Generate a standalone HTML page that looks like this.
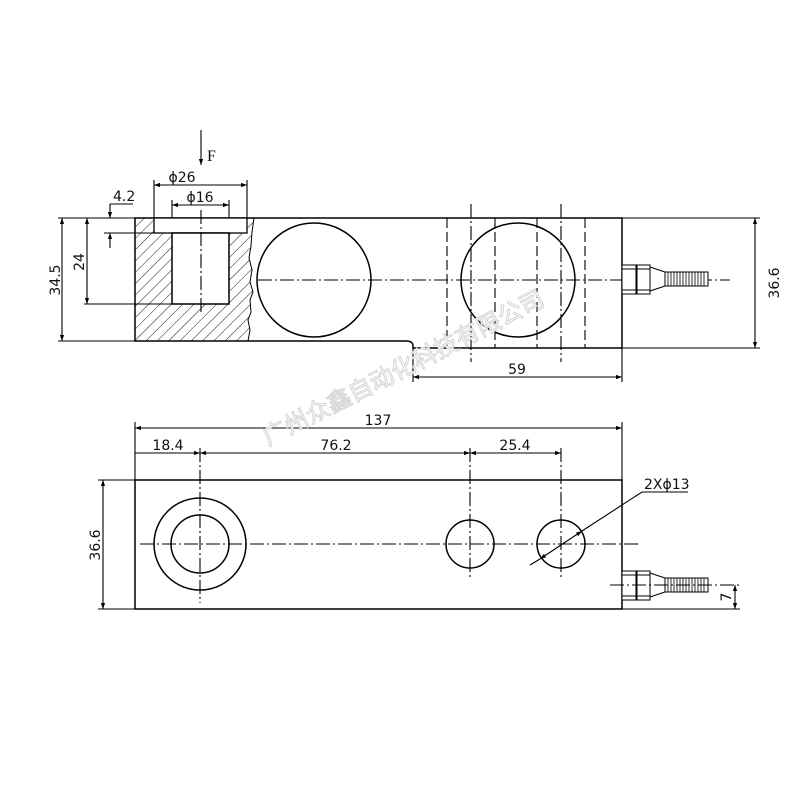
<!DOCTYPE html>
<html><head><meta charset="utf-8"><style>
html,body{margin:0;padding:0;background:#fff;}
svg{display:block;}
text{font-family:"DejaVu Sans","Liberation Sans",sans-serif;font-size:14px;fill:#111;}
</style></head><body>
<svg width="800" height="800" viewBox="0 0 800 800" xmlns="http://www.w3.org/2000/svg">
<defs>
<marker id="a" viewBox="0 0 10 10" refX="10" refY="5" markerWidth="8" markerHeight="6" orient="auto-start-reverse" markerUnits="userSpaceOnUse"><path d="M0,1.5 L10,5 L0,8.5 z" fill="#000"/></marker>
<pattern id="h" width="8" height="8" patternUnits="userSpaceOnUse" patternTransform="rotate(45)"><line x1="0" y1="0" x2="0" y2="8" stroke="#000" stroke-width="0.9"/></pattern>
<g id="conn" stroke="#000" fill="#fff" stroke-width="1">
<rect x="0" y="-14" width="14" height="29"/><line x1="0" y1="-10" x2="14" y2="-10"/><line x1="0" y1="11" x2="14" y2="11"/>
<rect x="15" y="-14" width="13" height="29"/><line x1="15" y1="-10" x2="28" y2="-10"/><line x1="15" y1="11" x2="28" y2="11"/>
<path d="M28,-12 L43,-7 L43,7 L28,12 z"/>
<rect x="43" y="-7" width="43" height="14"/>
<path d="M46,-7v14M49,-7v14M52,-7v14M55,-7v14M58,-7v14M61,-7v14M64,-7v14M67,-7v14M70,-7v14M73,-7v14M76,-7v14M79,-7v14M82,-7v14" stroke-width="0.8"/>
</g>
</defs>
<g fill="none" stroke="#000" stroke-width="1.1">
<path d="M135,218 L622,218 L622,348 L413,348 L413,346 Q413,341 406,341 L135,341 Z" stroke-width="1.5"/>
<path d="M135,218 L135,341 L248,341 L250,330 L248,320 L251,312 L250,300 L253,292 L250,282 L252,270 L249,258 L251,246 L252,232 L254,218 Z" fill="url(#h)" stroke="none"/>
<path d="M254,218 L252,232 L251,246 L249,258 L252,270 L250,282 L253,292 L250,300 L251,312 L248,320 L250,330 L248,341" stroke-width="1"/>
<rect x="154" y="218" width="93" height="15" fill="#fff" stroke-width="1.3"/>
<rect x="172" y="233" width="57" height="71" fill="#fff" stroke-width="1.5"/>
<line x1="201" y1="210" x2="201" y2="314" stroke-dasharray="14,3,2,3"/>
<circle cx="314" cy="280" r="57" stroke-width="1.5"/>
<circle cx="518" cy="280" r="57" stroke-width="1.5"/>
<line x1="258" y1="280" x2="730" y2="280" stroke-dasharray="14,3,2,3"/>
<g stroke-dasharray="10,4">
<line x1="447" y1="218" x2="447" y2="348"/><line x1="495" y1="218" x2="495" y2="348"/>
<line x1="537" y1="218" x2="537" y2="348"/><line x1="585" y1="218" x2="585" y2="348"/>
</g>
<g stroke-dasharray="14,3,2,3">
<line x1="471" y1="204" x2="471" y2="362"/><line x1="561" y1="204" x2="561" y2="362"/>
</g>
<use href="#conn" x="622" y="279"/>
<line x1="201" y1="130" x2="201" y2="165" marker-end="url(#a)"/>
<line x1="154" y1="218" x2="154" y2="180"/><line x1="247" y1="218" x2="247" y2="180"/>
<line x1="154" y1="185" x2="247" y2="185" marker-start="url(#a)" marker-end="url(#a)"/>
<line x1="172" y1="218" x2="172" y2="200"/><line x1="229" y1="218" x2="229" y2="200"/>
<line x1="172" y1="205" x2="229" y2="205" marker-start="url(#a)" marker-end="url(#a)"/>
<line x1="58" y1="218" x2="135" y2="218"/><line x1="58" y1="341" x2="135" y2="341"/>
<line x1="62" y1="218" x2="62" y2="341" marker-start="url(#a)" marker-end="url(#a)"/>
<line x1="84" y1="304" x2="172" y2="304"/>
<line x1="87" y1="218" x2="87" y2="304" marker-start="url(#a)" marker-end="url(#a)"/>
<line x1="104" y1="233" x2="154" y2="233"/>
<line x1="110" y1="204" x2="133" y2="204"/>
<line x1="110" y1="204" x2="110" y2="218" marker-end="url(#a)"/>
<line x1="110" y1="248" x2="110" y2="233" marker-end="url(#a)"/>
<line x1="622" y1="218" x2="760" y2="218"/><line x1="622" y1="348" x2="760" y2="348"/>
<line x1="755" y1="218" x2="755" y2="348" marker-start="url(#a)" marker-end="url(#a)"/>
<line x1="413" y1="348" x2="413" y2="382"/><line x1="622" y1="348" x2="622" y2="382"/>
<line x1="413" y1="377" x2="622" y2="377" marker-start="url(#a)" marker-end="url(#a)"/>
<rect x="135" y="480" width="487" height="129" stroke-width="1.5"/>
<circle cx="200" cy="544" r="46" stroke-width="1.5"/>
<circle cx="200" cy="544" r="29" stroke-width="1.5"/>
<circle cx="470" cy="544" r="24" stroke-width="1.5"/>
<circle cx="561" cy="544" r="24" stroke-width="1.5"/>
<line x1="140" y1="544" x2="640" y2="544" stroke-dasharray="14,3,2,3"/>
<line x1="200" y1="448" x2="200" y2="603" stroke-dasharray="14,3,2,3"/>
<line x1="470" y1="448" x2="470" y2="580" stroke-dasharray="14,3,2,3"/>
<line x1="561" y1="448" x2="561" y2="580" stroke-dasharray="14,3,2,3"/>
<use href="#conn" x="622" y="585"/>
<line x1="610" y1="585" x2="740" y2="585" stroke-dasharray="14,3,2,3"/>
<line x1="135" y1="480" x2="135" y2="422"/><line x1="622" y1="480" x2="622" y2="422"/>
<line x1="135" y1="428" x2="622" y2="428" marker-start="url(#a)" marker-end="url(#a)"/>
<line x1="135" y1="453" x2="200" y2="453" marker-end="url(#a)"/>
<line x1="200" y1="453" x2="470" y2="453" marker-start="url(#a)" marker-end="url(#a)"/>
<line x1="470" y1="453" x2="561" y2="453" marker-start="url(#a)" marker-end="url(#a)"/>
<line x1="98" y1="480" x2="135" y2="480"/><line x1="98" y1="609" x2="135" y2="609"/>
<line x1="103" y1="480" x2="103" y2="609" marker-start="url(#a)" marker-end="url(#a)"/>
<line x1="622" y1="609" x2="740" y2="609"/>
<line x1="735" y1="585" x2="735" y2="609" marker-start="url(#a)" marker-end="url(#a)"/>
<line x1="530" y1="565" x2="540" y2="559"/>
<line x1="540" y1="559" x2="582" y2="531" marker-start="url(#a)" marker-end="url(#a)"/>
<path d="M582,531 L642,492 L688,492"/>
</g>
<text x="207" y="161" style="font-family:'Liberation Serif',serif;font-size:16px">F</text>
<text x="182" y="182" text-anchor="middle">ϕ26</text>
<text x="200" y="202" text-anchor="middle">ϕ16</text>
<text x="113" y="201" font-size="14">4.2</text>
<text transform="translate(60,280) rotate(-90)" text-anchor="middle">34.5</text>
<text transform="translate(84,262) rotate(-90)" text-anchor="middle">24</text>
<text transform="translate(779,283) rotate(-90)" text-anchor="middle">36.6</text>
<text x="517" y="374" text-anchor="middle">59</text>
<text x="378" y="425" text-anchor="middle">137</text>
<text x="168" y="450" text-anchor="middle">18.4</text>
<text x="336" y="450" text-anchor="middle">76.2</text>
<text x="515" y="450" text-anchor="middle">25.4</text>
<text transform="translate(100,545) rotate(-90)" text-anchor="middle">36.6</text>
<text x="644" y="489">2Xϕ13</text>
<text transform="translate(731,597) rotate(-90)" text-anchor="middle">7</text>
<text transform="translate(268,446) rotate(-27)" style="font-family:'Noto Sans CJK SC',sans-serif;font-size:24px;fill:#fff;stroke:#d4d4d4;stroke-width:1">广州众鑫自动化科技有限公司</text>
</svg>
</body></html>
